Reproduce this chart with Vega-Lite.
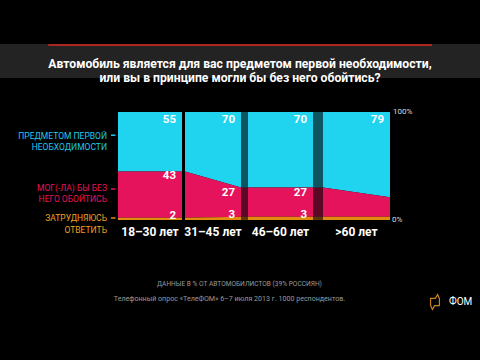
{
  "$schema": "https://vega.github.io/schema/vega-lite/v6.json",
  "width": 480,
  "height": 360,
  "autosize": "none",
  "padding": 0,
  "background": "#000000",
  "config": {"view": {"stroke": null}, "text": {"font": "Roboto"}},
  "datasets": {
    "area": [
      {"seg": "p1", "group": "18–30 лет", "face": "front", "edge": "L", "x": 0, "series": "Предметом первой необходимости", "value": 55},
      {"seg": "p1", "group": "18–30 лет", "face": "front", "edge": "L", "x": 0, "series": "Мог(-ла) бы без него обойтись", "value": 43},
      {"seg": "p1", "group": "18–30 лет", "face": "front", "edge": "L", "x": 0, "series": "Затрудняюсь ответить", "value": 2},
      {"seg": "p1", "group": "18–30 лет", "face": "front", "edge": "R", "x": 1, "series": "Предметом первой необходимости", "value": 55},
      {"seg": "p1", "group": "18–30 лет", "face": "front", "edge": "R", "x": 1, "series": "Мог(-ла) бы без него обойтись", "value": 43},
      {"seg": "p1", "group": "18–30 лет", "face": "front", "edge": "R", "x": 1, "series": "Затрудняюсь ответить", "value": 2},
      {"seg": "p2", "group": "31–45 лет", "face": "front", "edge": "L", "x": 1.047, "series": "Предметом первой необходимости", "value": 55},
      {"seg": "p2", "group": "31–45 лет", "face": "front", "edge": "L", "x": 1.047, "series": "Мог(-ла) бы без него обойтись", "value": 43},
      {"seg": "p2", "group": "31–45 лет", "face": "front", "edge": "L", "x": 1.047, "series": "Затрудняюсь ответить", "value": 2},
      {"seg": "p2", "group": "31–45 лет", "face": "front", "edge": "R", "x": 1.922, "series": "Предметом первой необходимости", "value": 70},
      {"seg": "p2", "group": "31–45 лет", "face": "front", "edge": "R", "x": 1.922, "series": "Мог(-ла) бы без него обойтись", "value": 27},
      {"seg": "p2", "group": "31–45 лет", "face": "front", "edge": "R", "x": 1.922, "series": "Затрудняюсь ответить", "value": 3},
      {"seg": "s3", "group": "46–60 лет", "face": "side", "edge": "L", "x": 1.922, "series": "Предметом первой необходимости", "value": 70},
      {"seg": "s3", "group": "46–60 лет", "face": "side", "edge": "L", "x": 1.922, "series": "Мог(-ла) бы без него обойтись", "value": 27},
      {"seg": "s3", "group": "46–60 лет", "face": "side", "edge": "L", "x": 1.922, "series": "Затрудняюсь ответить", "value": 3},
      {"seg": "s3", "group": "46–60 лет", "face": "side", "edge": "R", "x": 2.031, "series": "Предметом первой необходимости", "value": 70},
      {"seg": "s3", "group": "46–60 лет", "face": "side", "edge": "R", "x": 2.031, "series": "Мог(-ла) бы без него обойтись", "value": 27},
      {"seg": "s3", "group": "46–60 лет", "face": "side", "edge": "R", "x": 2.031, "series": "Затрудняюсь ответить", "value": 3},
      {"seg": "p3", "group": "46–60 лет", "face": "front", "edge": "L", "x": 2.031, "series": "Предметом первой необходимости", "value": 70},
      {"seg": "p3", "group": "46–60 лет", "face": "front", "edge": "L", "x": 2.031, "series": "Мог(-ла) бы без него обойтись", "value": 27},
      {"seg": "p3", "group": "46–60 лет", "face": "front", "edge": "L", "x": 2.031, "series": "Затрудняюсь ответить", "value": 3},
      {"seg": "p3", "group": "46–60 лет", "face": "front", "edge": "R", "x": 3.047, "series": "Предметом первой необходимости", "value": 70},
      {"seg": "p3", "group": "46–60 лет", "face": "front", "edge": "R", "x": 3.047, "series": "Мог(-ла) бы без него обойтись", "value": 27},
      {"seg": "p3", "group": "46–60 лет", "face": "front", "edge": "R", "x": 3.047, "series": "Затрудняюсь ответить", "value": 3},
      {"seg": "s4", "group": ">60 лет", "face": "side", "edge": "L", "x": 3.047, "series": "Предметом первой необходимости", "value": 70},
      {"seg": "s4", "group": ">60 лет", "face": "side", "edge": "L", "x": 3.047, "series": "Мог(-ла) бы без него обойтись", "value": 27},
      {"seg": "s4", "group": ">60 лет", "face": "side", "edge": "L", "x": 3.047, "series": "Затрудняюсь ответить", "value": 3},
      {"seg": "s4", "group": ">60 лет", "face": "side", "edge": "R", "x": 3.203, "series": "Предметом первой необходимости", "value": 70},
      {"seg": "s4", "group": ">60 лет", "face": "side", "edge": "R", "x": 3.203, "series": "Мог(-ла) бы без него обойтись", "value": 27},
      {"seg": "s4", "group": ">60 лет", "face": "side", "edge": "R", "x": 3.203, "series": "Затрудняюсь ответить", "value": 3},
      {"seg": "p4", "group": ">60 лет", "face": "front", "edge": "L", "x": 3.203, "series": "Предметом первой необходимости", "value": 70},
      {"seg": "p4", "group": ">60 лет", "face": "front", "edge": "L", "x": 3.203, "series": "Мог(-ла) бы без него обойтись", "value": 27},
      {"seg": "p4", "group": ">60 лет", "face": "front", "edge": "L", "x": 3.203, "series": "Затрудняюсь ответить", "value": 3},
      {"seg": "p4", "group": ">60 лет", "face": "front", "edge": "R", "x": 4.25, "series": "Предметом первой необходимости", "value": 79},
      {"seg": "p4", "group": ">60 лет", "face": "front", "edge": "R", "x": 4.25, "series": "Мог(-ла) бы без него обойтись", "value": 18},
      {"seg": "p4", "group": ">60 лет", "face": "front", "edge": "R", "x": 4.25, "series": "Затрудняюсь ответить", "value": 3}
    ],
    "one": [{}]
  },
  "layer": [
    {
      "data": {"name": "one"},
      "mark": {"type": "rect", "color": "#232323"},
      "encoding": {
        "x": {"datum": -1.84375, "type": "quantitative", "scale": {"domain": [-1.84375, 5.65625], "nice": false, "zero": false}, "axis": null},
        "x2": {"datum": 5.65625},
        "y": {"datum": 131.48, "type": "quantitative", "scale": {"domain": [-129.63, 203.7], "nice": false, "zero": false}, "axis": null},
        "y2": {"datum": 162.96}
      }
    },
    {
      "data": {"name": "one"},
      "mark": {"type": "rule", "color": "#b8281f", "strokeWidth": 2, "opacity": 0.9},
      "encoding": {
        "x": {"datum": -1.09, "type": "quantitative"},
        "x2": {"datum": 4.906},
        "y": {"datum": 162.04, "type": "quantitative"}
      }
    },
    {
      "data": {"name": "one"},
      "mark": {"type": "text", "text": ["Автомобиль является для вас предметом первой необходимости,", "или вы в принципе могли бы без него обойтись?"], "color": "#ffffff", "fontSize": 12.2, "fontWeight": "bold", "align": "center", "baseline": "middle", "lineHeight": 14},
      "encoding": {
        "x": {"datum": 1.906, "type": "quantitative"},
        "y": {"datum": 144.44, "type": "quantitative"}
      }
    },
    {
      "data": {"name": "area"},
      "transform": [
        {"stack": "value", "groupby": ["seg", "x"], "sort": [{"field": "series", "order": "ascending"}], "as": ["y0", "y1"]}
      ],
      "mark": {"type": "area", "interpolate": "linear"},
      "encoding": {
        "x": {"field": "x", "type": "quantitative"},
        "y": {"field": "y1", "type": "quantitative"},
        "y2": {"field": "y0"},
        "color": {"field": "series", "type": "nominal", "scale": {"domain": ["Предметом первой необходимости", "Мог(-ла) бы без него обойтись", "Затрудняюсь ответить"], "range": ["#20d4ef", "#e4135b", "#e08a10"]}, "legend": null},
        "opacity": {"field": "face", "type": "nominal", "scale": {"domain": ["front", "side"], "range": [1, 0.4]}, "legend": null},
        "detail": {"field": "seg", "type": "nominal"}
      }
    },
    {
      "data": {"name": "area"},
      "transform": [
        {"stack": "value", "groupby": ["seg", "x"], "sort": [{"field": "series", "order": "ascending"}], "as": ["y0", "y1"]},
        {"filter": "datum.edge == 'R' && datum.face == 'front' && datum.series == 'Предметом первой необходимости'"}
      ],
      "mark": {"type": "text", "color": "#ffffff", "fontSize": 11.5, "fontWeight": "bold", "align": "right", "baseline": "middle", "dx": -6, "dy": 8},
      "encoding": {
        "x": {"field": "x", "type": "quantitative"},
        "y": {"field": "y1", "type": "quantitative"},
        "text": {"field": "value", "type": "quantitative"}
      }
    },
    {
      "data": {"name": "area"},
      "transform": [
        {"stack": "value", "groupby": ["seg", "x"], "sort": [{"field": "series", "order": "ascending"}], "as": ["y0", "y1"]},
        {"filter": "datum.edge == 'R' && datum.face == 'front' && datum.seg != 'p4' && datum.series == 'Мог(-ла) бы без него обойтись'"}
      ],
      "mark": {"type": "text", "color": "#ffffff", "fontSize": 11.5, "fontWeight": "bold", "align": "right", "baseline": "middle", "dx": -6, "dy": 5},
      "encoding": {
        "x": {"field": "x", "type": "quantitative"},
        "y": {"field": "y1", "type": "quantitative"},
        "text": {"field": "value", "type": "quantitative"}
      }
    },
    {
      "data": {"name": "area"},
      "transform": [
        {"stack": "value", "groupby": ["seg", "x"], "sort": [{"field": "series", "order": "ascending"}], "as": ["y0", "y1"]},
        {"filter": "datum.edge == 'R' && datum.face == 'front' && datum.seg != 'p4' && datum.series == 'Затрудняюсь ответить'"}
      ],
      "mark": {"type": "text", "color": "#ffffff", "fontSize": 11.5, "fontWeight": "bold", "align": "right", "baseline": "middle", "dx": -6, "dy": -2},
      "encoding": {
        "x": {"field": "x", "type": "quantitative"},
        "y": {"field": "y1", "type": "quantitative"},
        "text": {"field": "value", "type": "quantitative"}
      }
    },
    {
      "data": {"name": "area"},
      "transform": [
        {"filter": "datum.face == 'front' && datum.series == 'Затрудняюсь ответить'"},
        {"aggregate": [{"op": "mean", "field": "x", "as": "xm"}], "groupby": ["group"]}
      ],
      "mark": {"type": "text", "color": "#ffffff", "fontSize": 12, "fontWeight": "bold", "align": "center", "baseline": "middle"},
      "encoding": {
        "x": {"field": "xm", "type": "quantitative"},
        "y": {"datum": -11, "type": "quantitative"},
        "text": {"field": "group", "type": "nominal"}
      }
    },
    {
      "data": {"name": "one"},
      "mark": {"type": "text", "text": ["ПРЕДМЕТОМ ПЕРВОЙ", "НЕОБХОДИМОСТИ"], "color": "#20c8ee", "fontSize": 8.5, "align": "right", "baseline": "middle", "lineHeight": 11},
      "encoding": {"x": {"datum": -0.172, "type": "quantitative"}, "y": {"datum": 77.78, "type": "quantitative"}}
    },
    {
      "data": {"name": "one"},
      "mark": {"type": "text", "text": ["МОГ(-ЛА) БЫ БЕЗ", "НЕГО ОБОЙТИСЬ"], "color": "#e4135b", "fontSize": 8.5, "align": "right", "baseline": "middle", "lineHeight": 11},
      "encoding": {"x": {"datum": -0.172, "type": "quantitative"}, "y": {"datum": 29.17, "type": "quantitative"}}
    },
    {
      "data": {"name": "one"},
      "mark": {"type": "text", "text": ["ЗАТРУДНЯЮСЬ", "ОТВЕТИТЬ"], "color": "#f0a020", "fontSize": 8.5, "align": "right", "baseline": "middle", "lineHeight": 12},
      "encoding": {"x": {"datum": -0.172, "type": "quantitative"}, "y": {"datum": 1.85, "type": "quantitative"}}
    },
    {
      "data": {"name": "one"},
      "mark": {"type": "rule", "color": "#20c8ee", "strokeWidth": 1.5},
      "encoding": {"x": {"datum": -0.11, "type": "quantitative"}, "x2": {"datum": -0.04}, "y": {"datum": 78.5, "type": "quantitative"}}
    },
    {
      "data": {"name": "one"},
      "mark": {"type": "rule", "color": "#e4135b", "strokeWidth": 1.5},
      "encoding": {"x": {"datum": -0.11, "type": "quantitative"}, "x2": {"datum": -0.04}, "y": {"datum": 28.7, "type": "quantitative"}}
    },
    {
      "data": {"name": "one"},
      "mark": {"type": "rule", "color": "#e08a10", "strokeWidth": 1.5},
      "encoding": {"x": {"datum": -0.11, "type": "quantitative"}, "x2": {"datum": -0.04}, "y": {"datum": 1.85, "type": "quantitative"}}
    },
    {
      "data": {"name": "one"},
      "mark": {"type": "text", "text": "100%", "color": "#dddddd", "fontSize": 8, "align": "left", "baseline": "middle"},
      "encoding": {"x": {"datum": 4.297, "type": "quantitative"}, "y": {"datum": 100, "type": "quantitative"}}
    },
    {
      "data": {"name": "one"},
      "mark": {"type": "text", "text": "0%", "color": "#dddddd", "fontSize": 8, "align": "left", "baseline": "middle"},
      "encoding": {"x": {"datum": 4.28, "type": "quantitative"}, "y": {"datum": 0, "type": "quantitative"}}
    },
    {
      "data": {"name": "one"},
      "mark": {"type": "text", "text": "ДАННЫЕ В % ОТ АВТОМОБИЛИСТОВ (39% РОССИЯН)", "color": "#9a9a9a", "fontSize": 6.6, "align": "center", "baseline": "middle"},
      "encoding": {"x": {"datum": 1.898, "type": "quantitative"}, "y": {"datum": -59.26, "type": "quantitative"}}
    },
    {
      "data": {"name": "one"},
      "mark": {"type": "text", "text": "Телефонный опрос «ТелеФОМ» 6–7 июля 2013 г. 1000 респондентов.", "color": "#9a9a9a", "fontSize": 7.1, "align": "center", "baseline": "middle"},
      "encoding": {"x": {"datum": 1.742, "type": "quantitative"}, "y": {"datum": -73.15, "type": "quantitative"}}
    },
    {
      "data": {"name": "one"},
      "mark": {"type": "point", "shape": "M-0.6,-0.5 L0.05,-0.5 L0.35,-1 L0.6,-0.45 L0.6,0.5 L-0.05,0.5 L-0.35,1 L-0.6,0.45 Z", "size": 220, "filled": false, "stroke": "#c8841c", "strokeWidth": 1.2, "opacity": 1},
      "encoding": {"x": {"datum": 4.953, "type": "quantitative"}, "y": {"datum": -75.93, "type": "quantitative"}}
    },
    {
      "data": {"name": "one"},
      "mark": {"type": "text", "text": "ФОМ", "color": "#ffffff", "fontSize": 10, "align": "left", "baseline": "middle"},
      "encoding": {"x": {"datum": 5.172, "type": "quantitative"}, "y": {"datum": -75.93, "type": "quantitative"}}
    }
  ]
}
